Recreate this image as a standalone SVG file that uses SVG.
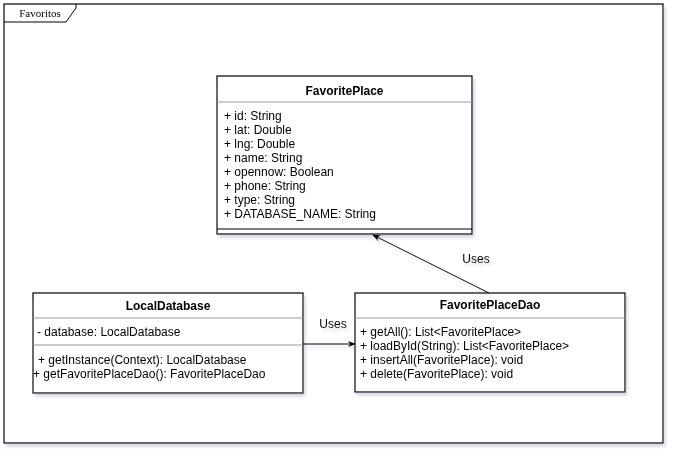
<svg xmlns="http://www.w3.org/2000/svg" width="678" height="458" viewBox="0 0 678 458">
<defs>
<filter id="sh" x="-10%" y="-10%" width="120%" height="130%">
<feDropShadow dx="2" dy="3" stdDeviation="1.5" flood-color="#7a7a9a" flood-opacity="0.3"/>
</filter>
<marker id="arr" viewBox="0 0 10 10" refX="9" refY="5" markerWidth="8" markerHeight="8" orient="auto" markerUnits="userSpaceOnUse">
<path d="M0,1 L10,5 L0,9 L3,5 Z" fill="#000"/>
</marker>
</defs>
<style>
.box{fill:#fff;stroke:#000;stroke-width:1.2}
.sep{stroke:#999;stroke-width:1}
.sepd{stroke:#000;stroke-width:1.2}
.t{font-family:"Liberation Sans",Arial,sans-serif;font-size:12px;fill:#000}
.b{font-weight:bold;text-anchor:middle}
.c{fill:none;stroke:#000;stroke-width:1}
</style>
<rect width="678" height="458" fill="#fff"/>
<g id="frame" filter="url(#sh)">
<rect x="4" y="4" width="659" height="439" class="box"/>
<path d="M4,22 L66,22 L76,8 L76,4" fill="none" stroke="#000" stroke-width="1"/>
<text x="40" y="17" text-anchor="middle" font-family="Liberation Serif,Times New Roman,serif" font-size="11">Favoritos</text>
</g>
<g id="FavoritePlace" filter="url(#sh)">
<rect x="217" y="76" width="255" height="158" class="box"/>
<line x1="217" y1="102" x2="472" y2="102" class="sep"/>
<line x1="217" y1="229" x2="472" y2="229" class="sepd"/>
<text x="344.5" y="95" class="t b">FavoritePlace</text>
<text class="t" x="224" y="120">+ id: String</text>
<text class="t" x="224" y="134">+ lat: Double</text>
<text class="t" x="224" y="148">+ lng: Double</text>
<text class="t" x="224" y="162">+ name: String</text>
<text class="t" x="224" y="176">+ opennow: Boolean</text>
<text class="t" x="224" y="190">+ phone: String</text>
<text class="t" x="224" y="204">+ type: String</text>
<text class="t" x="224" y="218">+ DATABASE_NAME: String</text>
</g>
<g id="LocalDatabase" filter="url(#sh)">
<rect x="33" y="293" width="270" height="100" class="box"/>
<line x1="33" y1="318" x2="303" y2="318" class="sep"/>
<line x1="33" y1="345" x2="303" y2="345" class="sep"/>
<text x="168" y="310" class="t b">LocalDatabase</text>
<text class="t" x="37" y="336">- database: LocalDatabase</text>
<text class="t" x="38" y="364">+ getInstance(Context): LocalDatabase</text>
<text class="t" x="33" y="378">+ getFavoritePlaceDao(): FavoritePlaceDao</text>
</g>
<g id="FavoritePlaceDao" filter="url(#sh)">
<rect x="355" y="293" width="270" height="99" class="box"/>
<line x1="355" y1="318" x2="625" y2="318" class="sep"/>
<text x="490" y="309" class="t b">FavoritePlaceDao</text>
<text class="t" x="360" y="336">+ getAll(): List&lt;FavoritePlace&gt;</text>
<text class="t" x="360" y="350">+ loadById(String): List&lt;FavoritePlace&gt;</text>
<text class="t" x="360" y="364">+ insertAll(FavoritePlace): void</text>
<text class="t" x="360" y="378">+ delete(FavoritePlace): void</text>
</g>
<g id="connectors" filter="url(#sh)">
<line x1="303" y1="344" x2="355" y2="344" class="c" marker-end="url(#arr)"/>
<text class="t" x="333" y="328" text-anchor="middle">Uses</text>
<line x1="489" y1="293" x2="373" y2="235" class="c" marker-end="url(#arr)"/>
<text class="t" x="476" y="263" text-anchor="middle">Uses</text>
</g>
</svg>
